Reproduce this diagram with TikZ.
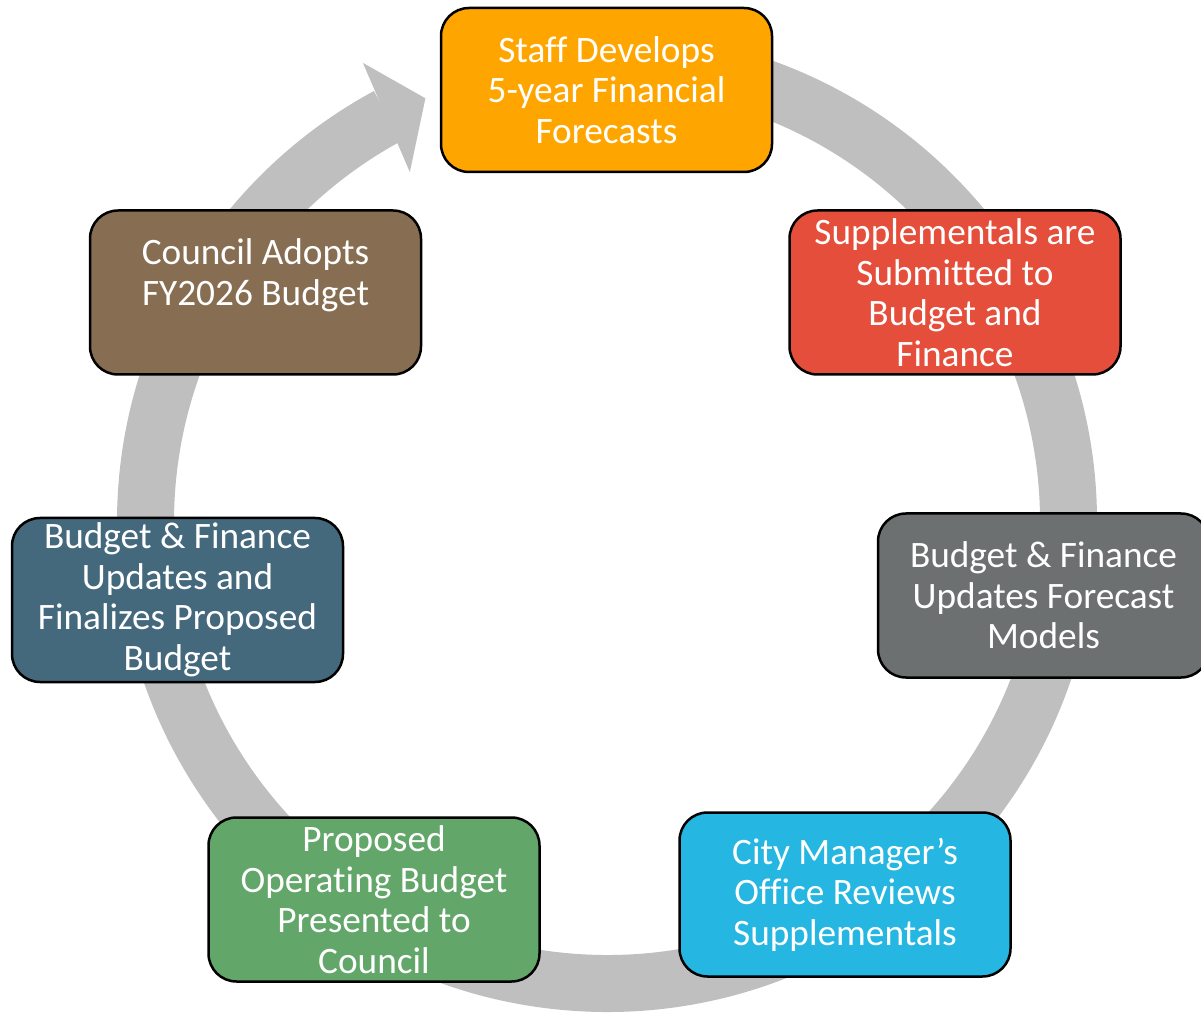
\documentclass[tikz,border=0pt]{standalone}
\usepackage{fontspec}
\setmainfont{Carlito}[Ligatures=NoCommon]
\usetikzlibrary{calc}
\definecolor{ringgray}{HTML}{BFBFBF}
\definecolor{cOrange}{HTML}{FFA500}
\definecolor{cRed}{HTML}{E54E3B}
\definecolor{cGray}{HTML}{6D7070}
\definecolor{cCyan}{HTML}{25B6E2}
\definecolor{cGreen}{HTML}{63A66A}
\definecolor{cSlate}{HTML}{44697D}
\definecolor{cBrown}{HTML}{876E52}
\begin{document}
\begin{tikzpicture}[x=1pt,y=1pt,
  stage/.style={draw=black, line width=2.5pt, rounded corners=28pt,
    minimum width=331pt, minimum height=164pt, text=white, align=center,
    font=\fontsize{37.3}{40.5}\selectfont, inner sep=0pt},
  ring/.style={draw=ringgray, line width=57pt},
  ringhead/.style={fill=ringgray}
]
\useasboundingbox (0,0) rectangle (1201,1013);
\coordinate (C) at (607,491);
% circular arrow
\draw[ring] ($(C)+(85:461.5)$) arc[start angle=85, end angle=-241.6, radius=461.5];
\fill[ringhead] ($(C)+(118.0:520)$) -- ($(C)+(113.2:461)$) -- ($(C)+(119.4:401.6)$) -- cycle;
% stages
\node[stage, fill=cOrange] (n1) at (606.5,923) {Staff Develops\\5-year Financial\\Forecasts};
\node[stage, fill=cRed] (n2) at (955,720.5) {Supplementals are\\Submitted to\\Budget and\\Finance};
\node[stage, fill=cGray] (n3) at (1043.5,417.5) {Budget \& Finance\\Updates Forecast\\Models};
\node[stage, fill=cCyan] (n4) at (845,118.5) {City Manager’s\\Office Reviews\\Supplementals};
\node[stage, fill=cGreen] (n5) at (374,113.5) {Proposed\\Operating Budget\\Presented to\\Council};
\node[stage, fill=cSlate] (n6) at (177.5,413) {Budget \& Finance\\Updates and\\Finalizes Proposed\\Budget};
\node[stage, fill=cBrown] (n7) at (255.5,720.5) {Council Adopts\\FY2026 Budget\\\mbox{}};
\end{tikzpicture}
\end{document}
